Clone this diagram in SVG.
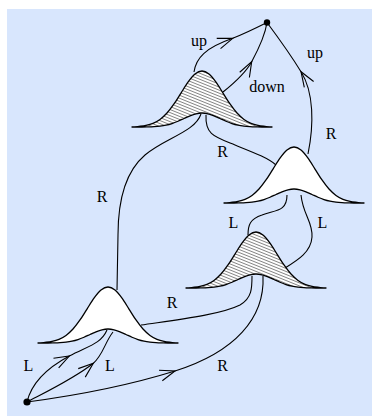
<svg xmlns="http://www.w3.org/2000/svg" xmlns:xlink="http://www.w3.org/1999/xlink" width="372" height="416" viewBox="0 0 372 416">
<style>
.bell{stroke:#000;stroke-width:1.3;stroke-linejoin:round}
.white{fill:#fff}
.hatched{fill:url(#hatch)}
.con{fill:none;stroke:#000;stroke-width:1.1}
.arr{marker-mid:url(#chev)}
.lbl{font-family:"Liberation Serif","Times New Roman",serif;font-size:16px;fill:#000;text-anchor:middle}
</style>
<defs>
<pattern id="hatch" patternUnits="userSpaceOnUse" width="8" height="2.8" patternTransform="rotate(22)">
<rect width="8" height="2.8" fill="#fff"/>
<line x1="0" y1="1.4" x2="8" y2="1.4" stroke="#333" stroke-width="0.6"/>
</pattern>
<marker id="chev" markerUnits="userSpaceOnUse" markerWidth="20" markerHeight="20" refX="0" refY="0" orient="auto" overflow="visible">
<path d="M -15,-5.5 L 0,0 L -15,5.5" fill="none" stroke="#000" stroke-width="1.1"/>
</marker>
<path id="bell" d="M -70,0 C -67.67,0 -65.33,-0.35 -63,-0.62 C -60.67,-0.89 -58.33,-1.09 -56,-1.6 C -53.67,-2.11 -51.33,-2.68 -49,-3.68 C -46.67,-4.68 -44.33,-5.87 -42,-7.58 C -39.67,-9.3 -37.33,-11.4 -35,-13.97 C -32.67,-16.54 -30.33,-19.69 -28,-23.02 C -25.67,-26.35 -23.33,-30.33 -21,-33.97 C -18.67,-37.61 -16.33,-41.67 -14,-44.84 C -11.67,-48.01 -9.33,-51.12 -7,-52.98 C -4.67,-54.84 -2.33,-56 0,-56 C 2.33,-56 4.67,-54.84 7,-52.98 C 9.33,-51.12 11.67,-48.01 14,-44.84 C 16.33,-41.67 18.67,-37.61 21,-33.97 C 23.33,-30.33 25.67,-26.35 28,-23.02 C 30.33,-19.69 32.67,-16.54 35,-13.97 C 37.33,-11.4 39.67,-9.3 42,-7.58 C 44.33,-5.87 46.67,-4.68 49,-3.68 C 51.33,-2.68 53.67,-2.11 56,-1.6 C 58.33,-1.09 60.67,-0.89 63,-0.62 C 65.33,-0.35 67.67,0 70,0 L 60,0 C 58,0 56,-0.09 54,-0.15 C 52,-0.21 50,-0.27 48,-0.4 C 46,-0.53 44,-0.67 42,-0.92 C 40,-1.17 38,-1.46 36,-1.89 C 34,-2.32 32,-2.85 30,-3.49 C 28,-4.14 26,-4.93 24,-5.76 C 22,-6.59 20,-7.58 18,-8.49 C 16,-9.4 14,-10.42 12,-11.21 C 10,-12 8,-12.78 6,-13.24 C 4,-13.71 2,-14 0,-14 C -2,-14 -4,-13.71 -6,-13.24 C -8,-12.78 -10,-12 -12,-11.21 C -14,-10.42 -16,-9.4 -18,-8.49 C -20,-7.58 -22,-6.59 -24,-5.76 C -26,-4.93 -28,-4.14 -30,-3.49 C -32,-2.85 -34,-2.32 -36,-1.89 C -38,-1.46 -40,-1.17 -42,-0.92 C -44,-0.67 -46,-0.53 -48,-0.4 C -50,-0.27 -52,-0.21 -54,-0.15 C -56,-0.09 -58,0 -60,0 Z"/>
</defs>
<rect x="7" y="9" width="365" height="407" fill="#d8e6fd"/>
<g id="connectors">
<path class="con arr" d="M 194,72 C 196,58 205,48 232.7,38.3 C 245,33.5 258,27 267,22.5"/>
<path class="con arr" d="M 223,92 C 233,84 245,74 251.7,61.7 C 258,50 265,36 267,22.5"/>
<path class="con arr" d="M 308,154 C 314,125 314,92 301,71.7 C 292,57 280,40 267,22.5"/>
<path class="con" d="M 201,114 C 195,132 165,138 145,155 C 125,172 118,200 118,235 L 117,290"/>
<path class="con" d="M 206,115 C 205,135 215,137 235,145 C 255,153 268,158 276,165"/>
<path class="con" d="M 287,195 C 287,212 275,210 262,215 C 250,219 248,225 248,235"/>
<path class="con" d="M 301,195 C 303,215 313,222 312,237 C 311,252 298,260 285,268"/>
<path class="con" d="M 141,325 C 175,320 220,315 240,305 C 252,298 252,288 252,276"/>
<path class="con arr" d="M 27,402 C 80,395 130,385 175,371 C 235,352 265,318 263,276"/>
<path class="con arr" d="M 27,402 C 31,385 45,369 69.3,356 C 88,346 101,344 107,330"/>
<path class="con arr" d="M 27,402 C 50,390 75,378 93.3,363.3 C 103,355 105,342 113,332"/>
</g>
<g id="nodeA"><use xlink:href="#bell" href="#bell" class="bell hatched" transform="translate(202,127)"/></g>
<g id="nodeB"><use xlink:href="#bell" href="#bell" class="bell white" transform="translate(294,203)"/></g>
<g id="nodeC"><use xlink:href="#bell" href="#bell" class="bell hatched" transform="translate(256,288)"/></g>
<g id="nodeD"><use xlink:href="#bell" href="#bell" class="bell white" transform="translate(108,343)"/></g>
<g id="endDot"><circle cx="267" cy="22.5" r="3.2" fill="#000"/></g>
<g id="startDot"><circle cx="27" cy="402" r="3.6" fill="#000"/></g>
<g id="labels">
<text class="lbl" x="199" y="46">up</text>
<text class="lbl" x="267" y="91.5">down</text>
<text class="lbl" x="315" y="58">up</text>
<text class="lbl" x="331" y="138.5">R</text>
<text class="lbl" x="222.5" y="157">R</text>
<text class="lbl" x="102" y="201.5">R</text>
<text class="lbl" x="233.5" y="228">L</text>
<text class="lbl" x="322.5" y="228">L</text>
<text class="lbl" x="172" y="307.5">R</text>
<text class="lbl" x="222.5" y="371">R</text>
<text class="lbl" x="28.5" y="371">L</text>
<text class="lbl" x="110" y="371">L</text>
</g>
</svg>
